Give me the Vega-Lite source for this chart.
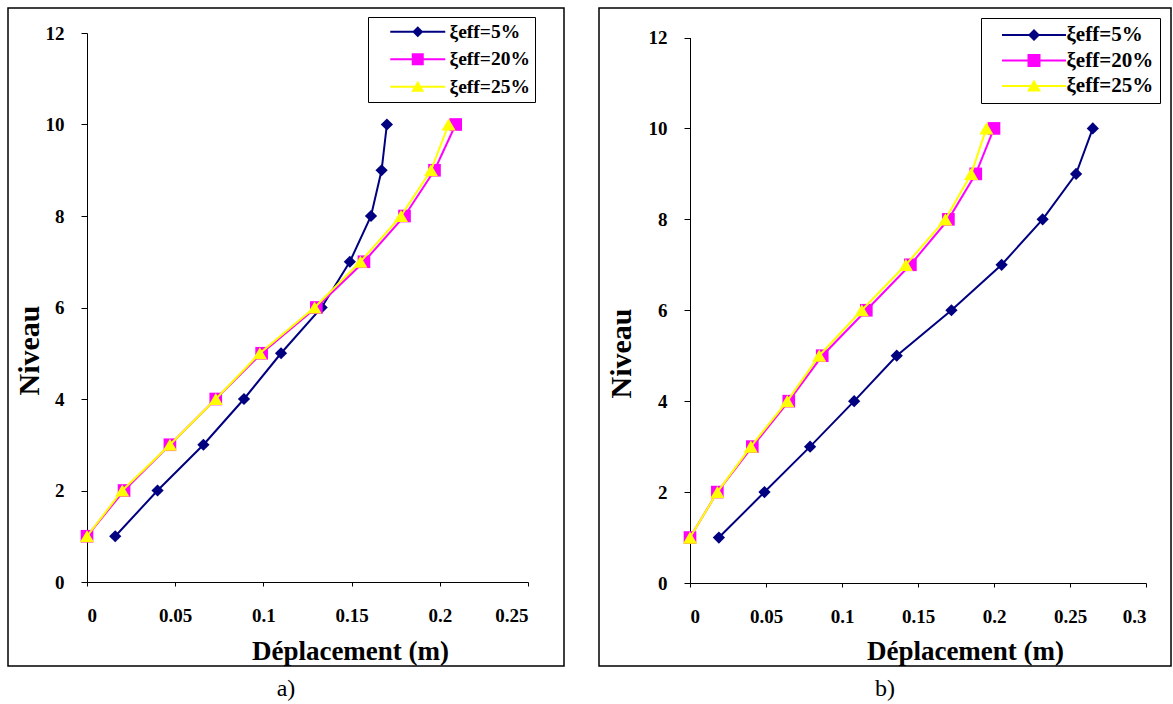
{
  "$schema": "https://vega.github.io/schema/vega-lite/v6.json",
  "background": "white",
  "padding": {"left": 7, "top": 7, "right": 0, "bottom": 0},
  "spacing": 33,
  "datasets": {
    "a": [
      {"n": 1, "d": 0.016, "s": "ξeff=5%"}, {"n": 2, "d": 0.040, "s": "ξeff=5%"}, {"n": 3, "d": 0.066, "s": "ξeff=5%"}, {"n": 4, "d": 0.089, "s": "ξeff=5%"}, {"n": 5, "d": 0.110, "s": "ξeff=5%"},
      {"n": 6, "d": 0.133, "s": "ξeff=5%"}, {"n": 7, "d": 0.149, "s": "ξeff=5%"}, {"n": 8, "d": 0.161, "s": "ξeff=5%"}, {"n": 9, "d": 0.167, "s": "ξeff=5%"}, {"n": 10, "d": 0.170, "s": "ξeff=5%"},
      {"n": 1, "d": 0.000, "s": "ξeff=20%"}, {"n": 2, "d": 0.021, "s": "ξeff=20%"}, {"n": 3, "d": 0.047, "s": "ξeff=20%"}, {"n": 4, "d": 0.073, "s": "ξeff=20%"}, {"n": 5, "d": 0.099, "s": "ξeff=20%"},
      {"n": 6, "d": 0.130, "s": "ξeff=20%"}, {"n": 7, "d": 0.157, "s": "ξeff=20%"}, {"n": 8, "d": 0.180, "s": "ξeff=20%"}, {"n": 9, "d": 0.197, "s": "ξeff=20%"}, {"n": 10, "d": 0.209, "s": "ξeff=20%"},
      {"n": 1, "d": 0.000, "s": "ξeff=25%"}, {"n": 2, "d": 0.020, "s": "ξeff=25%"}, {"n": 3, "d": 0.047, "s": "ξeff=25%"}, {"n": 4, "d": 0.073, "s": "ξeff=25%"}, {"n": 5, "d": 0.098, "s": "ξeff=25%"},
      {"n": 6, "d": 0.129, "s": "ξeff=25%"}, {"n": 7, "d": 0.155, "s": "ξeff=25%"}, {"n": 8, "d": 0.178, "s": "ξeff=25%"}, {"n": 9, "d": 0.195, "s": "ξeff=25%"}, {"n": 10, "d": 0.205, "s": "ξeff=25%"}
    ],
    "b": [
      {"n": 1, "d": 0.019, "s": "ξeff=5%"}, {"n": 2, "d": 0.049, "s": "ξeff=5%"}, {"n": 3, "d": 0.079, "s": "ξeff=5%"}, {"n": 4, "d": 0.108, "s": "ξeff=5%"}, {"n": 5, "d": 0.136, "s": "ξeff=5%"},
      {"n": 6, "d": 0.172, "s": "ξeff=5%"}, {"n": 7, "d": 0.205, "s": "ξeff=5%"}, {"n": 8, "d": 0.232, "s": "ξeff=5%"}, {"n": 9, "d": 0.254, "s": "ξeff=5%"}, {"n": 10, "d": 0.265, "s": "ξeff=5%"},
      {"n": 1, "d": 0.000, "s": "ξeff=20%"}, {"n": 2, "d": 0.018, "s": "ξeff=20%"}, {"n": 3, "d": 0.041, "s": "ξeff=20%"}, {"n": 4, "d": 0.065, "s": "ξeff=20%"}, {"n": 5, "d": 0.087, "s": "ξeff=20%"},
      {"n": 6, "d": 0.116, "s": "ξeff=20%"}, {"n": 7, "d": 0.145, "s": "ξeff=20%"}, {"n": 8, "d": 0.170, "s": "ξeff=20%"}, {"n": 9, "d": 0.188, "s": "ξeff=20%"}, {"n": 10, "d": 0.200, "s": "ξeff=20%"},
      {"n": 1, "d": 0.000, "s": "ξeff=25%"}, {"n": 2, "d": 0.018, "s": "ξeff=25%"}, {"n": 3, "d": 0.040, "s": "ξeff=25%"}, {"n": 4, "d": 0.064, "s": "ξeff=25%"}, {"n": 5, "d": 0.085, "s": "ξeff=25%"},
      {"n": 6, "d": 0.113, "s": "ξeff=25%"}, {"n": 7, "d": 0.142, "s": "ξeff=25%"}, {"n": 8, "d": 0.168, "s": "ξeff=25%"}, {"n": 9, "d": 0.185, "s": "ξeff=25%"}, {"n": 10, "d": 0.195, "s": "ξeff=25%"}
    ]
  },
  "resolve": {"scale": {"color": "independent", "shape": "independent", "x": "independent", "y": "independent"}},
  "hconcat": [
    {
      "width": 556,
      "height": 658,
      "title": {"text": "a)", "orient": "bottom", "anchor": "middle", "font": "Liberation Serif", "fontSize": 24, "fontWeight": "normal", "color": "black", "offset": 11},
      "data": {"name": "a"},
      "encoding": {
        "x": {"field": "d", "type": "quantitative", "scale": {"domain": [0, 0.25], "range": [79, 520], "nice": false, "zero": false},
          "axis": {"title": "Déplacement (m)", "values": [0, 0.05, 0.1, 0.15, 0.2, 0.25], "format": "~g", "offset": -84, "tickSize": 4, "labelPadding": 20, "titleFontSize": 27, "titleX": 342, "titleY": 77, "titleBaseline": "alphabetic", "titleAlign": "center"}},
        "y": {"field": "n", "type": "quantitative", "scale": {"domain": [0, 12], "range": [574, 25], "nice": false},
          "axis": {"title": "Niveau", "values": [0, 2, 4, 6, 8, 10, 12], "offset": -79, "tickSize": 6, "labelPadding": 17, "titleFontSize": 30, "titleX": -49, "titleY": 342, "titleBaseline": "alphabetic", "titleAlign": "center", "titleAngle": 270}}
      },
      "layer": [
        {"transform": [{"filter": "datum.s === 'ξeff=5%'"}], "mark": {"type": "line", "strokeWidth": 2, "color": "#000080"},
          "encoding": {"order": {"field": "n", "type": "quantitative"}}},
        {"transform": [{"filter": "datum.s === 'ξeff=5%'"}], "mark": {"type": "point", "shape": "diamond", "filled": true, "size": 150, "opacity": 1, "color": "#000080"}, "encoding": {}},
        {"transform": [{"filter": "datum.s === 'ξeff=20%'"}], "mark": {"type": "line", "strokeWidth": 2, "color": "#FF00FF"},
          "encoding": {"order": {"field": "n", "type": "quantitative"}}},
        {"transform": [{"filter": "datum.s === 'ξeff=20%'"}], "mark": {"type": "point", "shape": "square", "filled": true, "size": 160, "opacity": 1, "color": "#FF00FF"}, "encoding": {}},
        {"transform": [{"filter": "datum.s === 'ξeff=25%'"}], "mark": {"type": "line", "strokeWidth": 2, "color": "#FFFF00"},
          "encoding": {"order": {"field": "n", "type": "quantitative"}}},
        {"transform": [{"filter": "datum.s === 'ξeff=25%'"}], "mark": {"type": "point", "shape": "triangle-up", "filled": true, "size": 200, "opacity": 1, "color": "#FFFF00"}, "encoding": {}},
        {"mark": {"type": "point", "filled": true, "opacity": 0, "size": 100},
          "encoding": {
            "color": {"field": "s", "type": "nominal", "scale": {"domain": ["ξeff=5%", "ξeff=20%", "ξeff=25%"], "range": ["#000080", "#FF00FF", "#FFFF00"]},
              "legend": {"title": null, "orient": "none", "legendX": 360, "legendY": 9, "padding": 5, "rowPadding": 6.5, "strokeColor": "black", "fillColor": "white", "symbolSize": 100, "symbolStrokeWidth": 0, "symbolOpacity": 1, "labelFont": "Liberation Serif", "labelFontSize": 19.5, "labelFontWeight": "bold", "labelColor": "black", "labelOffset": 57}},
            "shape": {"field": "s", "type": "nominal", "scale": {"domain": ["ξeff=5%", "ξeff=20%", "ξeff=25%"], "range": ["M1.5,-0.2H12.5V0.2H1.5Z M7,-1.1L8.1,0L7,1.1L5.9,0Z", "M1.5,-0.2H12.5V0.2H1.5Z M5.8,-1.2H8.2V1.2H5.8Z", "M1.5,-0.2H12.5V0.2H1.5Z M7,-1.2L8.3,1H5.7Z"]},
              "legend": {"title": null, "orient": "none", "legendX": 360, "legendY": 9, "padding": 5, "rowPadding": 6.5, "strokeColor": "black", "fillColor": "white", "symbolSize": 100, "symbolStrokeWidth": 0, "symbolOpacity": 1, "labelFont": "Liberation Serif", "labelFontSize": 19.5, "labelFontWeight": "bold", "labelColor": "black", "labelOffset": 57}}
          }}
      ]
    },
    {
      "width": 572,
      "height": 658,
      "title": {"text": "b)", "orient": "bottom", "anchor": "middle", "font": "Liberation Serif", "fontSize": 24, "fontWeight": "normal", "color": "black", "offset": 11},
      "data": {"name": "b"},
      "encoding": {
        "x": {"field": "d", "type": "quantitative", "scale": {"domain": [0, 0.3], "range": [91, 547], "nice": false, "zero": false},
          "axis": {"title": "Déplacement (m)", "values": [0, 0.05, 0.1, 0.15, 0.2, 0.25, 0.3], "format": "~g", "offset": -83, "tickSize": 4, "labelPadding": 20, "titleFontSize": 27, "titleX": 366, "titleY": 76, "titleBaseline": "alphabetic", "titleAlign": "center"}},
        "y": {"field": "n", "type": "quantitative", "scale": {"domain": [0, 12], "range": [575, 29.5], "nice": false},
          "axis": {"title": "Niveau", "values": [0, 2, 4, 6, 8, 10, 12], "offset": -91, "tickSize": 6, "labelPadding": 17, "titleFontSize": 30, "titleX": -60, "titleY": 345, "titleBaseline": "alphabetic", "titleAlign": "center", "titleAngle": 270}}
      },
      "layer": [
        {"transform": [{"filter": "datum.s === 'ξeff=5%'"}], "mark": {"type": "line", "strokeWidth": 2, "color": "#000080"},
          "encoding": {"order": {"field": "n", "type": "quantitative"}}},
        {"transform": [{"filter": "datum.s === 'ξeff=5%'"}], "mark": {"type": "point", "shape": "diamond", "filled": true, "size": 150, "opacity": 1, "color": "#000080"}, "encoding": {}},
        {"transform": [{"filter": "datum.s === 'ξeff=20%'"}], "mark": {"type": "line", "strokeWidth": 2, "color": "#FF00FF"},
          "encoding": {"order": {"field": "n", "type": "quantitative"}}},
        {"transform": [{"filter": "datum.s === 'ξeff=20%'"}], "mark": {"type": "point", "shape": "square", "filled": true, "size": 160, "opacity": 1, "color": "#FF00FF"}, "encoding": {}},
        {"transform": [{"filter": "datum.s === 'ξeff=25%'"}], "mark": {"type": "line", "strokeWidth": 2, "color": "#FFFF00"},
          "encoding": {"order": {"field": "n", "type": "quantitative"}}},
        {"transform": [{"filter": "datum.s === 'ξeff=25%'"}], "mark": {"type": "point", "shape": "triangle-up", "filled": true, "size": 200, "opacity": 1, "color": "#FFFF00"}, "encoding": {}},
        {"mark": {"type": "point", "filled": true, "opacity": 0, "size": 100},
          "encoding": {
            "color": {"field": "s", "type": "nominal", "scale": {"domain": ["ξeff=5%", "ξeff=20%", "ξeff=25%"], "range": ["#000080", "#FF00FF", "#FFFF00"]},
              "legend": {"title": null, "orient": "none", "legendX": 382, "legendY": 10, "padding": 6.5, "rowPadding": 3.5, "strokeColor": "black", "fillColor": "white", "symbolSize": 100, "symbolStrokeWidth": 0, "symbolOpacity": 1, "labelFont": "Liberation Serif", "labelFontSize": 21, "labelFontWeight": "bold", "labelColor": "black", "labelOffset": 58}},
            "shape": {"field": "s", "type": "nominal", "scale": {"domain": ["ξeff=5%", "ξeff=20%", "ξeff=25%"], "range": ["M0.8,-0.2H13.6V0.2H0.8Z M7.2,-1.2L8.4,0L7.2,1.2L6,0Z", "M0.8,-0.2H13.6V0.2H0.8Z M5.9,-1.3H8.5V1.3H5.9Z", "M0.8,-0.2H13.6V0.2H0.8Z M7.2,-1.3L8.6,1.1H5.8Z"]},
              "legend": {"title": null, "orient": "none", "legendX": 382, "legendY": 10, "padding": 6.5, "rowPadding": 3.5, "strokeColor": "black", "fillColor": "white", "symbolSize": 100, "symbolStrokeWidth": 0, "symbolOpacity": 1, "labelFont": "Liberation Serif", "labelFontSize": 21, "labelFontWeight": "bold", "labelColor": "black", "labelOffset": 58}}
          }}
      ]
    }
  ],
  "config": {
    "view": {"stroke": "black", "strokeWidth": 1.5},
    "axis": {"grid": false, "domainColor": "black", "domainWidth": 1, "tickColor": "black", "tickWidth": 1, "labelColor": "black", "titleColor": "black", "labelFont": "Liberation Serif", "labelFontWeight": "bold", "labelFontSize": 19, "titleFont": "Liberation Serif", "titleFontWeight": "bold"}
  }
}
